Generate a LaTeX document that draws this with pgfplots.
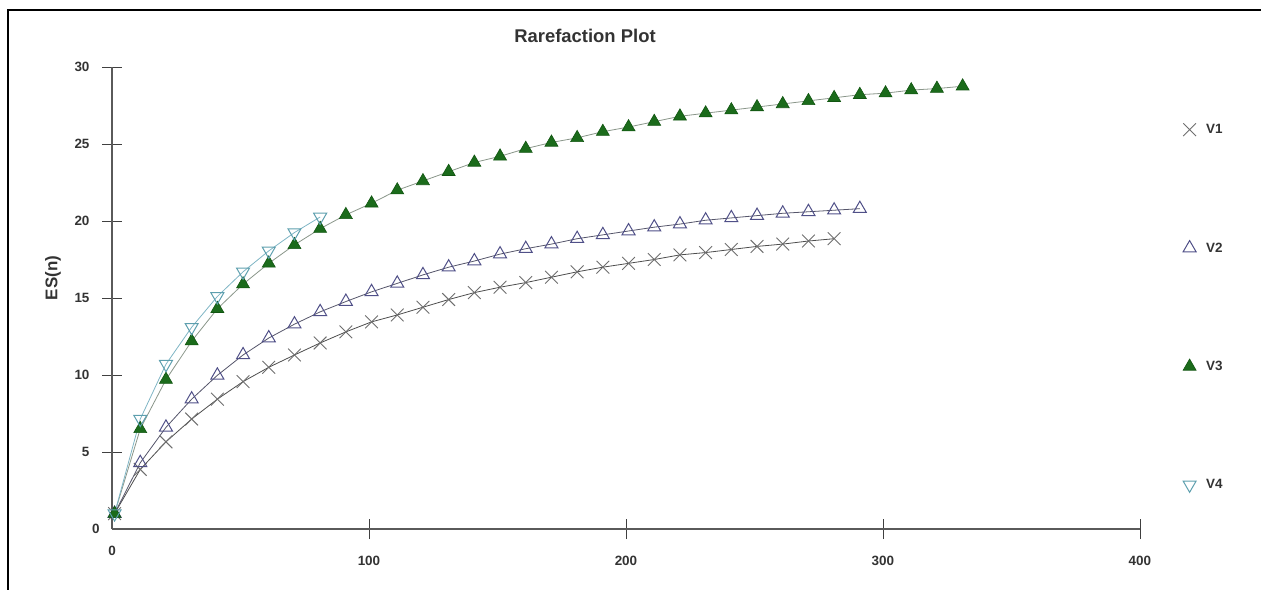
\documentclass[border=0pt]{standalone}
\usepackage{pgfplots}
\pgfplotsset{compat=1.18}
\usepackage{fontspec}
\setmainfont{Liberation Sans}
\definecolor{axgray}{HTML}{5A5A5A}
\definecolor{txtgray}{HTML}{333333}
\definecolor{vonemark}{HTML}{6E6E6E}
\definecolor{voneline}{HTML}{4D4D4D}
\definecolor{vtwomark}{HTML}{505088}
\definecolor{vtwoline}{HTML}{55556A}
\definecolor{vthreefill}{HTML}{1B6B1B}
\definecolor{vthreedraw}{HTML}{115511}
\definecolor{vthreeline}{HTML}{8A968A}
\definecolor{vfourmark}{HTML}{5D9FAE}
\definecolor{vfourline}{HTML}{7FB5C5}
\begin{document}
\begin{tikzpicture}
\path[use as bounding box] (0bp,0bp) rectangle (1261bp,590bp);
\draw[black, line width=2bp] (8bp,0bp) -- (8bp,580bp) -- (1261bp,580bp);
\begin{axis}[
  at={(112bp,61bp)}, anchor=south west,
  scale only axis, width=1028bp, height=462bp,
  xmin=0, xmax=400, ymin=0, ymax=30,
  axis lines=left,
  axis line style={-, draw=axgray, line width=1.4bp},
  xtick={100,200,300,400}, ytick={5,10,15,20,25,30},
  extra x ticks={0}, extra y ticks={0},
  extra tick style={major tick length=0pt},
  tick align=center, major tick length=20bp,
  tick style={draw=black!75, line width=0.8bp},
  ticklabel style={font=\fontsize{13.5}{15}\selectfont\bfseries, text=txtgray},
  xticklabel style={yshift=-14bp},
  yticklabel style={xshift=-9bp},
  /pgf/number format/assume math mode=true,
  clip=false,
  legend style={draw=none, fill=none, at={(1.0389,0.885)}, anchor=north west,
    font=\fontsize{13.5}{15}\selectfont\bfseries, text=txtgray,
    row sep=103.5bp, /tikz/every odd column/.append style={column sep=8bp}},
  legend cell align=left,
]
\addplot[forget plot, color=voneline, line width=0.8bp, mark=x, mark size=9bp,
  mark options={draw=vonemark, line width=0.9bp}] table {
x y
1 1.0
11 3.87
21 5.66
31 7.14
41 8.43
51 9.57
61 10.5
71 11.3
81 12.08
91 12.8
101 13.45
111 13.9
121 14.4
131 14.9
141 15.35
151 15.7
161 16.0
171 16.35
181 16.7
191 17.0
201 17.25
211 17.5
221 17.8
231 17.95
241 18.15
251 18.35
261 18.5
271 18.7
281 18.85
};
\addplot[forget plot, color=vtwoline, line width=0.8bp, mark=triangle, mark size=7.5bp,
  mark options={draw=vtwomark, fill=white, line width=1bp}] table {
x y
1 1.0
11 4.3
21 6.6
31 8.43
41 9.98
51 11.3
61 12.4
71 13.3
81 14.1
91 14.77
101 15.4
111 15.95
121 16.5
131 17.0
141 17.4
151 17.85
161 18.2
171 18.5
181 18.85
191 19.1
201 19.35
211 19.6
221 19.8
231 20.05
241 20.2
251 20.35
261 20.5
271 20.6
281 20.7
291 20.8
};
\addplot[forget plot, color=vthreeline, line width=0.8bp, mark=triangle*, mark size=7.5bp,
  mark options={draw=vthreedraw, fill=vthreefill, line width=0.6bp}] table {
x y
1 1.0
11 6.5
21 9.7
31 12.2
41 14.3
51 15.9
61 17.25
71 18.45
81 19.5
91 20.4
101 21.15
111 22.0
121 22.6
131 23.2
141 23.8
151 24.2
161 24.7
171 25.1
181 25.4
191 25.8
201 26.1
211 26.45
221 26.8
231 27.0
241 27.2
251 27.4
261 27.6
271 27.8
281 28.0
291 28.2
301 28.3
311 28.5
321 28.6
331 28.75
};
\addplot[forget plot, color=vfourline, line width=0.8bp, mark=triangle, mark size=7.5bp,
  mark options={draw=vfourmark, fill=none, rotate=180, line width=1bp}] table {
x y
1 1.0
11 7.14
21 10.7
31 13.1
41 15.1
51 16.7
61 18.06
71 19.25
81 20.26
};
\addlegendimage{only marks, mark=x, mark size=9bp, mark options={draw=vonemark, line width=0.9bp}}
\addlegendentry{V1}
\addlegendimage{only marks, mark=triangle, mark size=7.5bp, mark options={draw=vtwomark, fill=white, line width=1bp}}
\addlegendentry{V2}
\addlegendimage{only marks, mark=triangle*, mark size=7.5bp, mark options={draw=vthreedraw, fill=vthreefill, line width=0.6bp}}
\addlegendentry{V3}
\addlegendimage{only marks, mark=triangle, mark size=7.5bp, mark options={draw=vfourmark, fill=none, rotate=180, line width=1bp}}
\addlegendentry{V4}
\end{axis}
\node[font=\fontsize{18.5}{21}\selectfont\bfseries, text=txtgray] at (585bp,554bp) {Rarefaction Plot};
\node[rotate=90, font=\fontsize{17}{20}\selectfont\bfseries, text=txtgray] at (53bp,312bp) {ES(n)};
\end{tikzpicture}
\end{document}
